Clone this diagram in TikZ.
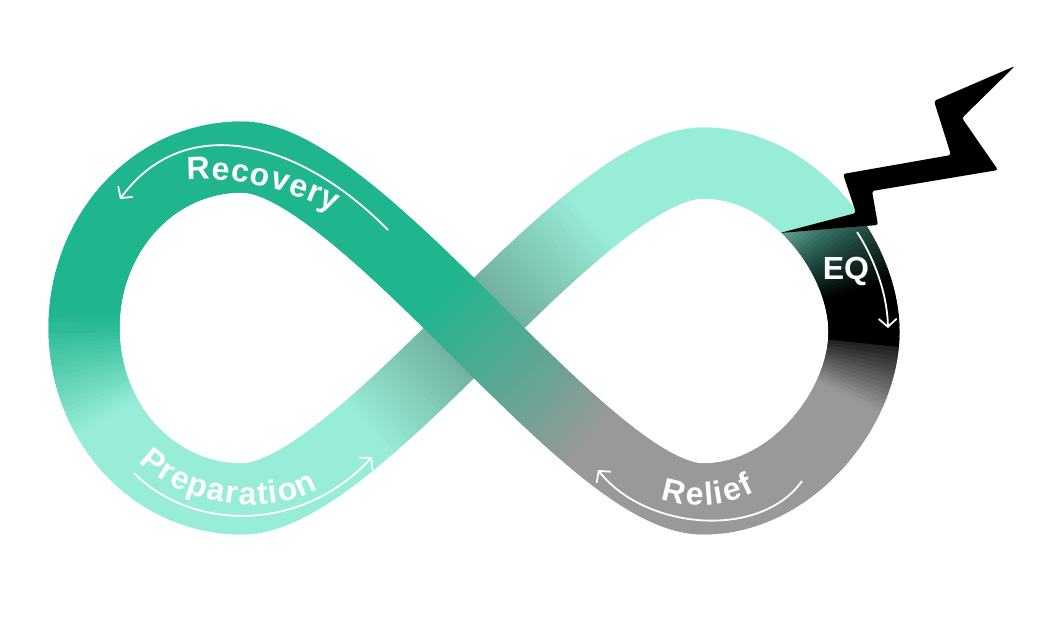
\documentclass[tikz,border=0pt]{standalone}
\usepackage{fontspec}
\setmainfont{Liberation Sans}
\usetikzlibrary{decorations.text,arrows.meta}
\definecolor{G}{RGB}{31,181,143}
\definecolor{M}{RGB}{152,237,216}
\definecolor{U}{RGB}{104,162,147}
\definecolor{Gr}{RGB}{153,153,153}
\definecolor{E0}{RGB}{132,205,188}
\definecolor{E1}{RGB}{36,82,72}
\definecolor{Dk}{RGB}{30,30,30}
\colorlet{bc}{G}
\newcommand\lblfont{\fontsize{32}{32}\selectfont\bfseries}
\newcommand\mixto[5]{%
  \pgfmathtruncatemacro\bpp{max(0,min(100,100*((#1)-(#2))/((#4)-(#2))))}%
  \colorlet{bc}{#5!\bpp!#3}}
\newcommand\setbc[1]{%
  \pgfmathsetmacro\bss{#1}%
  \ifdim\bss pt<0.35pt \mixto{\bss}{-0.05}{G}{0.35}{M}%
  \else\ifdim\bss pt<1.6pt \colorlet{bc}{M}%
  \else\ifdim\bss pt<2pt \mixto{\bss}{1.6}{M}{2}{U}%
  \else\ifdim\bss pt<2.45pt \mixto{\bss}{2}{U}{2.45}{M}%
  \else\ifdim\bss pt<3.35pt \colorlet{bc}{M}%
  \else\ifdim\bss pt<3.62pt \mixto{\bss}{3.35}{E0}{3.62}{E1}%
  \else\ifdim\bss pt<3.82pt \mixto{\bss}{3.62}{E1}{3.82}{black}%
  \else\ifdim\bss pt<4.05pt \colorlet{bc}{black}%
  \else\ifdim\bss pt<4.28pt \mixto{\bss}{4.05}{Dk}{4.28}{Gr}%
  \else\ifdim\bss pt<5.55pt \colorlet{bc}{Gr}%
  \else\ifdim\bss pt<6.12pt \mixto{\bss}{5.55}{Gr}{6.12}{G}%
  \else\ifdim\bss pt<7.95pt \colorlet{bc}{G}%
  \else \mixto{\bss}{7.95}{G}{8.35}{M}%
  \fi\fi\fi\fi\fi\fi\fi\fi\fi\fi\fi\fi}
\newcommand\bandpiece[2]{% #1 = index, #2 = colour mode
  \pgfmathtruncatemacro\ga{mod(#1+1,480)}%
  \pgfmathtruncatemacro\gb{mod(#1+2,480)}%
  \ifx#2m\colorlet{bc}{M}\else\setbc{(#1+0.5)/60}\fi
  \draw[band,draw=bc] (p#1) -- (p\ga) -- (p\gb);}
\begin{document}
\begin{tikzpicture}[x=1pt,y=-1pt,
  band/.style={line width=71pt,line cap=butt,line join=round},
  lblarrow/.style={draw=white,line width=1.8pt,-{Straight Barb[length=8pt,width=18pt]}},
  lbltext/.style={decorate,decoration={text along path,text color=white,text align=fit to path}}]
\useasboundingbox (0,0) rectangle (1046,620);
% centre line of the band: eight Bezier segments
\coordinate (S0-a) at (84,328);  \coordinate (S0-b) at (84,422);  \coordinate (S0-c) at (153,499); \coordinate (S0-d) at (242,499);
\coordinate (S1-a) at (242,499); \coordinate (S1-b) at (297,499); \coordinate (S1-c) at (380,422); \coordinate (S1-d) at (474,328);
\coordinate (S2-a) at (474,328); \coordinate (S2-b) at (568,234); \coordinate (S2-c) at (648,163); \coordinate (S2-d) at (703,163);
\coordinate (S3-a) at (703,163); \coordinate (S3-b) at (793,163); \coordinate (S3-c) at (864,256); \coordinate (S3-d) at (864,332);
\coordinate (S4-a) at (864,332); \coordinate (S4-b) at (864,407); \coordinate (S4-c) at (793,499); \coordinate (S4-d) at (703,499);
\coordinate (S5-a) at (703,499); \coordinate (S5-b) at (648,499); \coordinate (S5-c) at (568,422); \coordinate (S5-d) at (474,328);
\coordinate (S6-a) at (474,328); \coordinate (S6-b) at (380,234); \coordinate (S6-c) at (297,157); \coordinate (S6-d) at (242,157);
\coordinate (S7-a) at (242,157); \coordinate (S7-b) at (153,157); \coordinate (S7-c) at (84,234);  \coordinate (S7-d) at (84,328);
\foreach \k in {0,...,7}{
  \foreach \i in {0,...,59}{
    \pgfmathtruncatemacro\g{\k*60+\i}
    \pgfmathsetmacro\tpos{\i/60}
    \path (S\k-a) .. controls (S\k-b) and (S\k-c) .. (S\k-d) coordinate[pos=\tpos] (p\g);
  }
}
% band pieces
\foreach \g in {0,...,197}{\bandpiece{\g}{c}}
\begin{scope}
  \clip (600,0) -- (1046,0) -- (1046,211.3) -- (600,247.7) -- cycle;
  \foreach \g in {198,...,225}{\bandpiece{\g}{m}}
\end{scope}
\begin{scope}
  \clip (600,247.7) -- (1046,211.3) -- (1046,620) -- (600,620) -- cycle;
  \foreach \g in {200,...,233}{\bandpiece{\g}{c}}
\end{scope}
\foreach \g in {234,...,479}{\bandpiece{\g}{c}}
% lightning bolt
\fill[black,rounded corners=2.5pt] (1015,66) -- (934,101) -- (951,155) -- (843,174) -- (856,213) -- (780,233)
  -- (878,225) -- (872,191) -- (998,170) -- (962,118) -- cycle;
% labels
\coordinate (rt1) at (187,180); \coordinate (rt2) at (235,176); \coordinate (rt3) at (290,190); \coordinate (rt4) at (334,212);
\path[lbltext,decoration={text={|\lblfont|Recovery}}] (rt1) .. controls (rt2) and (rt3) .. (rt4);
\coordinate (pt1) at (139,462); \coordinate (pt2) at (180,505); \coordinate (pt3) at (270,518); \coordinate (pt4) at (318,489);
\path[lbltext,decoration={text={|\lblfont|Preparation}}] (pt1) .. controls (pt2) and (pt3) .. (pt4);
\coordinate (lt1) at (661,499); \coordinate (lt2) at (690,509); \coordinate (lt3) at (725,508); \coordinate (lt4) at (755,492);
\path[lbltext,decoration={text={|\lblfont|Relief}}] (lt1) .. controls (lt2) and (lt3) .. (lt4);
\node[font=\lblfont,text=white,inner sep=0pt] (eq) at (846,271) {EQ};
% arrows
\coordinate (ra1) at (388,230); \coordinate (ra2) at (300,140); \coordinate (ra3) at (185,110); \coordinate (ra4) at (120,199);
\draw[lblarrow] (ra1) .. controls (ra2) and (ra3) .. (ra4);
\coordinate (pa1) at (134,473); \coordinate (pa2) at (190,530); \coordinate (pa3) at (300,535); \coordinate (pa4) at (372,457);
\draw[lblarrow] (pa1) .. controls (pa2) and (pa3) .. (pa4);
\coordinate (la1) at (802,481); \coordinate (la2) at (760,540); \coordinate (la3) at (645,530); \coordinate (la4) at (598,470);
\draw[lblarrow] (la1) .. controls (la2) and (la3) .. (la4);
\coordinate (ea1) at (857,232); \coordinate (ea2) at (872,255); \coordinate (ea3) at (887,290); \coordinate (ea4) at (888,328);
\draw[lblarrow] (ea1) .. controls (ea2) and (ea3) .. (ea4);
\end{tikzpicture}
\end{document}
